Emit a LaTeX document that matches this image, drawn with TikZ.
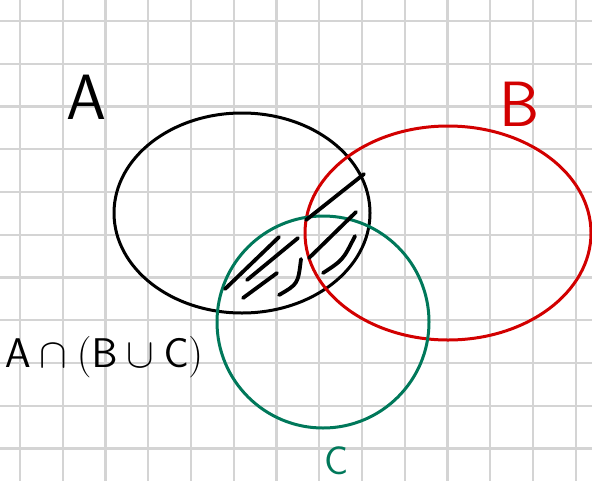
\documentclass[tikz,border=0pt]{standalone}
\usepackage{tikz}
\definecolor{setred}{RGB}{210,0,0}
\definecolor{setgreen}{RGB}{0,120,90}
\definecolor{gridgray}{RGB}{212,212,212}

\begin{document}
\begin{tikzpicture}[x=0.5pt,y=-0.5pt,
  gridline/.style={gridgray,line width=1.2pt},
  set/.style={line width=1.5pt},
  hatch/.style={line width=1.9pt,line cap=round},
  lab/.style={inner sep=0pt,font=\sffamily\fontsize{32}{32}\selectfont}]
\useasboundingbox (0,0) rectangle (592,481);
% paper grid
\foreach \i in {0,...,13} \draw[gridline] ({20+42.75*\i},0) -- ({20+42.75*\i},481);
\foreach \j in {0,...,10} \draw[gridline] (0,{21+42.75*\j}) -- (592,{21+42.75*\j});
% the three sets
\draw[set] (242,213) ellipse [x radius=128, y radius=100];
\draw[set,setred] (448,233) ellipse [x radius=143, y radius=107];
\draw[set,setgreen] (323,322) circle [radius=106];
% shading of A and (B or C)
\draw[hatch] (306,220) -- (364,174);
\draw[hatch] (309,258) -- (356,212);
\draw[hatch] (323,273) .. controls (343,260) .. (355,236);
\draw[hatch] (225,289) -- (279,237);
\draw[hatch] (247,280) -- (298,238);
\draw[hatch] (243,298) -- (277,273);
\draw[hatch] (279,295) .. controls (298,284) .. (301,259);
% labels
\node[lab] (labA) at (86,97) {A};
\node[lab,setred] (labB) at (520,104) {B};
\node[lab,setgreen,font=\sffamily\fontsize{20}{20}\selectfont] (labC) at (337,461) {C};
\node[lab,font=\sffamily\fontsize{21}{21}\selectfont] (labAnBC) at (104,357)
  {$\mathsf{A}\cap(\mathsf{B}\cup\mathsf{C})$};
\end{tikzpicture}
\end{document}
